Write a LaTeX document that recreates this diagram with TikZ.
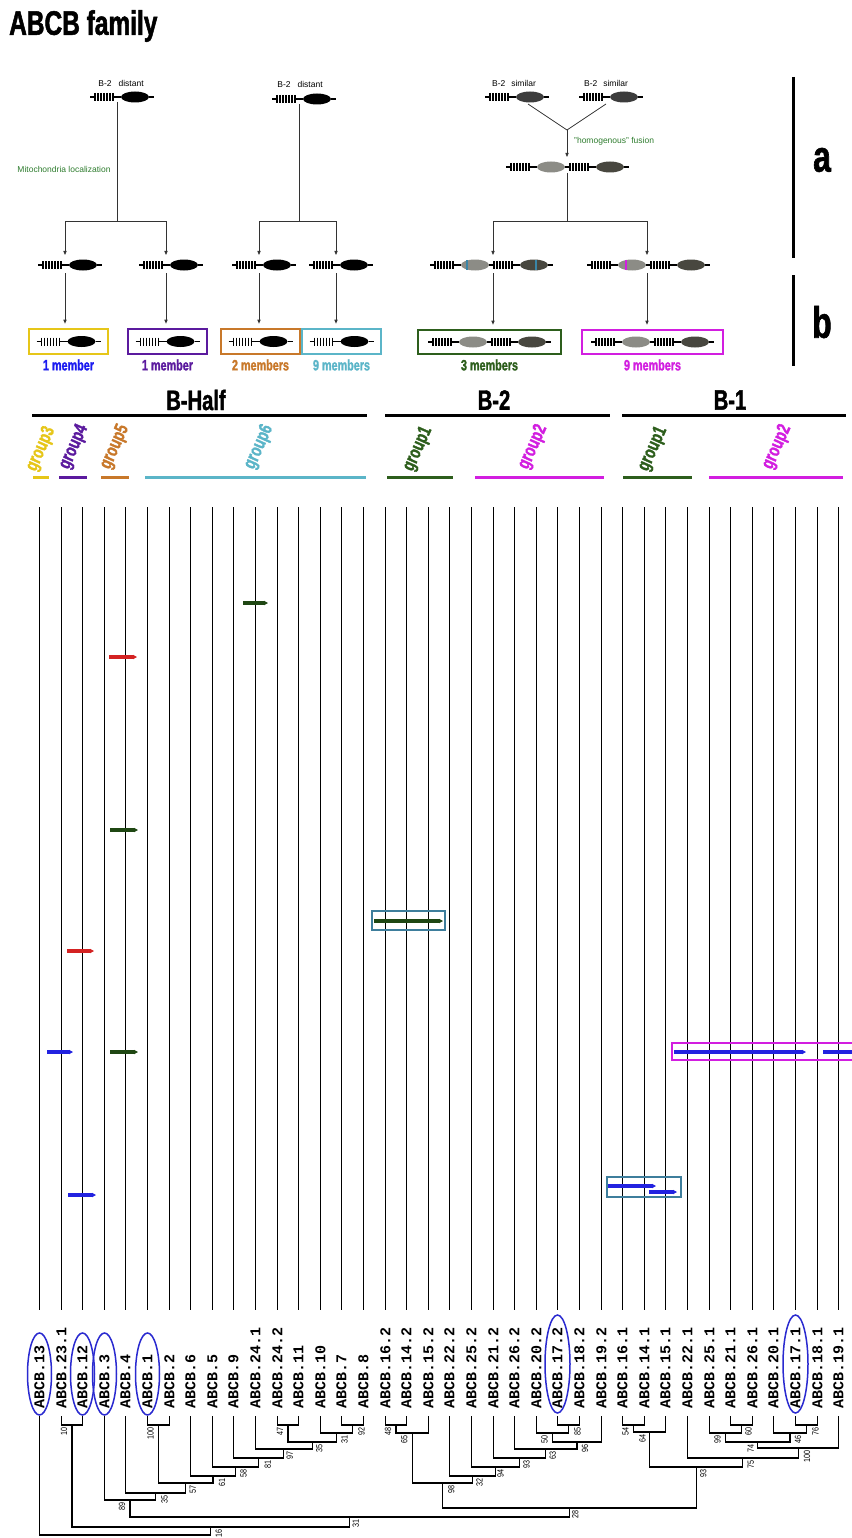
\documentclass[tikz,border=0pt]{standalone}
\usepackage{fontspec}
\setmainfont{Liberation Sans}
\newfontfamily\heavyfont[FakeStretch=0.72,FakeBold=1.5]{Liberation Sans}
\newfontfamily\labfont{Liberation Mono}
\newfontfamily\bootfont[FakeStretch=0.8]{Liberation Sans}
\usetikzlibrary{arrows.meta,calc,positioning}
\definecolor{grpYellow}{HTML}{E6C619}
\definecolor{grpPurple}{HTML}{5B1A9E}
\definecolor{grpOrange}{HTML}{C8782A}
\definecolor{grpCyan}{HTML}{5BB5C8}
\definecolor{grpGreen}{HTML}{2D5E1C}
\definecolor{grpMagenta}{HTML}{D21EE0}
\definecolor{memBlue}{HTML}{1A1AF0}
\definecolor{txtGreen}{HTML}{2F7D2F}
\definecolor{domLight}{HTML}{8C8C86}
\definecolor{domDark}{HTML}{48473F}
\definecolor{domSim}{HTML}{3C3C3C}
\definecolor{stripeTeal}{HTML}{3A86A8}
\definecolor{motifRed}{HTML}{D42222}
\definecolor{motifGreen}{HTML}{1F4713}
\definecolor{motifBlue}{HTML}{2222E0}
\definecolor{boxTeal}{HTML}{3E7E9C}
\definecolor{hlBlue}{HTML}{2A2AD0}

\tikzset{
  geneln/.style={line width=1.1pt, black},
  pics/genemod/.style={code={
    \draw[geneln] (-27,0) -- (-22,0);
    \foreach \t in {-22,-19,...,-4} \draw[geneln] (\t,-4) -- (\t,4);
    \draw[geneln] (-4,0) -- (4,0) (32,0) -- (37,0);
    \fill[#1] (18,0) ellipse [x radius=14, y radius=5.5];
  }}
}

% one clade of the tree: name, child, child, bar y, label shift, bootstrap
\newcommand{\clade}[6]{%
  \coordinate (yb) at (0,#4);
  \draw[tree] (#2) -- (#2 |- yb) -- (#3 |- yb) -- (#3);
  \coordinate (#1) at ($(#2 |- yb)!0.5!(#3 |- yb)$);
  \node[boot] (b#1) at ($(#1)+(#5,2)$) {#6};
}

\begin{document}
\begin{tikzpicture}[
    x=1pt, y=-1pt,
    conn/.style={line width=0.8pt, black!80},
    conarr/.style={conn, -{Triangle[length=4pt,width=3.2pt]}},
    memberbox/.style={draw=#1, line width=2.6pt, minimum width=79pt, minimum height=25pt, inner sep=0pt},
    memtext/.style={font=\heavyfont\bfseries\fontsize{15}{15}\selectfont, inner sep=1pt},
    small/.style={font=\fontsize{8.5}{9}\selectfont, inner sep=1pt},
    sect/.style={font=\heavyfont\bfseries\fontsize{28}{28}\selectfont},
    grp/.style={font=\heavyfont\bfseries\fontsize{19}{19}\selectfont, rotate=66, inner sep=0pt},
    uline/.style={line width=3pt},
    col/.style={line width=1.9pt, black},
    motif/.style={line width=3.8pt, -{Triangle[length=4pt,width=4.2pt]}},
    featbox/.style={line width=1.5pt},
    leaf/.style={font=\labfont\bfseries\fontsize{15}{15}\selectfont, rotate=90, anchor=west, inner sep=0pt},
    hl/.style={draw=hlBlue, line width=1.5pt},
    tree/.style={line width=1.2pt},
    boot/.style={font=\bootfont\fontsize{9}{9}\selectfont, rotate=90, anchor=east, inner sep=0.5pt}
  ]
  \useasboundingbox[fill=white] (0,0) rectangle (851,1538);

  \node[font=\heavyfont\bfseries\fontsize{34}{34}\selectfont, anchor=west, inner sep=0pt] (title) at (9,26) {ABCB family};

  % ---- panel a: origins
  \coordinate (dA) at (117,97);
  \coordinate (dB) at (299,99);
  \coordinate (sA) at (512,97);
  \coordinate (sB) at (606,97);
  \coordinate (mg) at (567,130);
  \coordinate (fu) at (533,167);
  \coordinate (brA) at (117,221);
  \coordinate (brB) at (299,221);
  \coordinate (brC) at (567,221);
  \coordinate (mA1) at (65,265);
  \coordinate (mA2) at (166,265);
  \coordinate (mB1) at (259,265);
  \coordinate (mB2) at (336,265);
  \coordinate (mC1) at (457,265);
  \coordinate (mC2) at (614,265);

  \pic at (dA) {genemod=black};
  \pic at (dB) {genemod=black};
  \pic at (sA) {genemod=domSim};
  \pic at (sB) {genemod=domSim};
  \pic at (fu) {genemod=domLight};
  \pic at ($(fu)+(59,0)$) {genemod=domDark};
  \node[small] (tA) at (121,83) {B-2\hspace{7pt}distant};
  \node[small] (tB) at (300,84) {B-2\hspace{7pt}distant};
  \node[small] (tC) at (514,83) {B-2\hspace{6pt}similar};
  \node[small] (tD) at (606,83) {B-2\hspace{6pt}similar};
  \node[small, text=txtGreen] (mito) at (64,169) {Mitochondria localization};
  \node[small, text=txtGreen, anchor=west] (fus) at (573,141) {"homogenous" fusion};

  \draw[conn] ($(dA)+(0,5)$) -- (brA);
  \draw[conarr] (brA) -| ($(mA1)+(0,-10)$);
  \draw[conarr] (brA) -| ($(mA2)+(0,-10)$);
  \draw[conn] ($(dB)+(0,5)$) -- (brB);
  \draw[conarr] (brB) -| ($(mB1)+(0,-10)$);
  \draw[conarr] (brB) -| ($(mB2)+(0,-10)$);
  \draw[conn] ($(sA)+(16,7)$) -- (mg);
  \draw[conn] ($(sB)+(0,7)$) -- (mg);
  \draw[conarr] (mg) -- ($(fu)+(34,-10)$);
  \draw[conn] ($(fu)+(34,6)$) -- (brC);
  \draw[conarr] (brC) -| ($(mC1)+(36,-10)$);
  \draw[conarr] (brC) -| ($(mC2)+(33,-10)$);

  \pic at (mA1) {genemod=black};
  \pic at (mA2) {genemod=black};
  \pic at (mB1) {genemod=black};
  \pic at (mB2) {genemod=black};
  \pic at (mC1) {genemod=domLight};
  \pic at ($(mC1)+(59,0)$) {genemod=domDark};
  \pic at (mC2) {genemod=domLight};
  \pic at ($(mC2)+(59,0)$) {genemod=domDark};
  \draw[line width=1.6pt, stripeTeal] ($(mC1)+(10,-5)$) -- ++(0,10);
  \draw[line width=1.6pt, stripeTeal] ($(mC1)+(79,-5)$) -- ++(0,10);
  \draw[line width=1.6pt, grpMagenta] ($(mC2)+(12,-5)$) -- ++(0,10);

  % ---- panel b: families
  \node[memberbox=grpYellow] (bxA) at (68.5,341.5) {};
  \node[memberbox=grpPurple] (bxB) at (167.5,341.5) {};
  \node[memberbox=grpOrange] (bxC) at (260.5,341.5) {};
  \node[memberbox=grpCyan] (bxD) at (341.5,341.5) {};
  \node[memberbox=grpGreen, minimum width=143pt, minimum height=24pt] (bxE) at (489.5,342) {};
  \node[memberbox=grpMagenta, minimum width=141pt, minimum height=24pt] (bxF) at (652.5,342) {};
  \foreach \b in {bxA,bxB,bxC,bxD} \pic at ($(\b.center)+(-5,0)$) {genemod=black};
  \foreach \b in {bxE,bxF} {
    \pic at ($(\b.center)+(-34.5,0)$) {genemod=domLight};
    \pic at ($(\b.center)+(24.5,0)$) {genemod=domDark};
  }
  \draw[conarr] ($(mA1)+(0,8)$) -- ($(mA1 |- bxA.north)+(0,-4)$);
  \draw[conarr] ($(mA2)+(0,8)$) -- ($(mA2 |- bxB.north)+(0,-4)$);
  \draw[conarr] ($(mB1)+(0,8)$) -- ($(mB1 |- bxC.north)+(0,-4)$);
  \draw[conarr] ($(mB2)+(0,8)$) -- ($(mB2 |- bxD.north)+(0,-4)$);
  \draw[conarr] ($(mC1)+(36,8)$) -- ($(bxE.north)+(3.5,-4)$);
  \draw[conarr] ($(mC2)+(33,8)$) -- ($(bxF.north)+(-5.5,-4)$);
  \node[memtext, text=memBlue, below=3pt of bxA] (nmA) {1 member};
  \node[memtext, text=grpPurple, below=3pt of bxB] (nmB) {1 member};
  \node[memtext, text=grpOrange, below=3pt of bxC] (nmC) {2 members};
  \node[memtext, text=grpCyan, below=3pt of bxD] (nmD) {9 members};
  \node[memtext, text=grpGreen, below=3pt of bxE] (nmE) {3 members};
  \node[memtext, text=grpMagenta, below=3pt of bxF] (nmF) {9 members};

  \draw[line width=3pt] (793,77) -- (793,258);
  \draw[line width=3pt] (793,275) -- (793,366);
  \node[font=\heavyfont\bfseries\fontsize{44}{44}\selectfont] (la) at (822,160) {a};
  \node[font=\heavyfont\bfseries\fontsize{44}{44}\selectfont] (lb) at (822,322) {b};

  % ---- subfamily headers
  \node[sect] (hHalf) at (196,400) {B-Half};
  \node[sect] (hTwo) at (494,400) {B-2};
  \node[sect] (hOne) at (730,400) {B-1};
  \draw[uline] (32,415) -- (367,415);
  \draw[uline] (385,415) -- (610,415);
  \draw[uline] (622,415) -- (846,415);

  \foreach \gx/\gy/\gc/\gt/\ga/\gb in {
      41/449/grpYellow/group3/33/49, 74/447/grpPurple/group4/59/87,
      115/447/grpOrange/group5/101/129, 259/447/grpCyan/group6/145/366,
      418/449/grpGreen/group1/387/453, 533/447/grpMagenta/group2/475/604,
      653/449/grpGreen/group1/623/692, 777/447/grpMagenta/group2/709/843} {
    \node[grp, text=\gc] at (\gx,\gy) {\gt};
    \draw[uline, \gc] (\ga,477) -- (\gb,477);
  }

  % ---- columns and leaf labels
  \foreach \nm [count=\i from 0] in {13,23.1,12,3,4,1,2,6,5,9,24.1,24.2,11,10,7,8,
      16.2,14.2,15.2,22.2,25.2,21.2,26.2,20.2,17.2,18.2,19.2,
      16.1,14.1,15.1,22.1,25.1,21.1,26.1,20.1,17.1,18.1,19.1} {
    \pgfmathsetmacro\xx{round(39+21.6*\i)+0.5}
    \draw[col] (\xx,507) -- (\xx,1310);
    \node[leaf] (l\i) at (\xx,1409) {ABCB.\nm};
    \coordinate (t\i) at (\xx,1416);
  }
  \foreach \i in {0,2,3,5} \draw[hl] (t\i |- 0,1374) ellipse [x radius=12, y radius=41];
  \foreach \i in {24,35} \draw[hl] (t\i |- 0,1364) ellipse [x radius=12.5, y radius=49];

  % motifs
  \draw[motif, motifGreen] (243,603) -- (268,603);
  \draw[motif, motifRed] (109,657) -- (137,657);
  \draw[motif, motifGreen] (110,830) -- (138,830);
  \draw[motif, motifRed] (67,951) -- (94,951);
  \draw[motif, motifBlue] (47,1052) -- (73,1052);
  \draw[motif, motifGreen] (110,1052) -- (138,1052);
  \draw[motif, motifBlue] (68,1195) -- (96,1195);
  \draw[motif, motifGreen] (374,921) -- (443,921);
  \draw[featbox, boxTeal] (372,911) rectangle (445,930);
  \draw[motif, motifBlue] (674,1052) -- (806,1052);
  \draw[motif, motifBlue] (823,1052) -- (856,1052);
  \draw[featbox, grpMagenta] (672,1043) rectangle (856,1060);
  \draw[motif, motifBlue] (608,1186) -- (656,1186);
  \draw[motif, motifBlue] (649,1192) -- (677,1192);
  \draw[featbox, boxTeal] (607,1177) rectangle (681,1197);

  % ---- tree
  \clade{nA}{t1}{t2}{1425}{-8}{10}
  \clade{nB}{t5}{t6}{1425}{-8}{100}
  \clade{nC1}{t11}{t12}{1425}{-8}{47}
  \clade{nC2}{t14}{t15}{1425}{9}{92}
  \clade{nC3}{t13}{nC2}{1433}{8}{31}
  \clade{nC4}{nC1}{nC3}{1442}{7}{35}
  \clade{nC5}{t10}{nC4}{1449}{6}{97}
  \clade{nC6}{t9}{nC5}{1458}{9}{81}
  \clade{nC7}{t8}{nC6}{1467}{8}{58}
  \clade{nC8}{t7}{nC7}{1476}{9}{61}
  \clade{nC9}{nB}{nC8}{1483}{7}{57}
  \clade{nC10}{t4}{nC9}{1493}{9}{35}
  \clade{nC11}{t3}{nC10}{1500}{-8}{89}
  \clade{nG1}{t16}{t17}{1425}{-8}{48}
  \clade{nG2}{nG1}{t18}{1433}{-8}{65}
  \clade{nHa}{t24}{t25}{1425}{9}{85}
  \clade{nHb}{t23}{nHa}{1433}{-8}{50}
  \clade{nHc}{nHb}{t26}{1442}{8}{96}
  \clade{nHd}{t22}{nHc}{1449}{7}{63}
  \clade{nHe}{t21}{nHd}{1458}{7}{93}
  \clade{nHf}{t20}{nHe}{1467}{5}{94}
  \clade{nHg}{t19}{nHf}{1476}{7}{32}
  \clade{nG3}{nG2}{nHg}{1483}{9}{98}
  \clade{nK1}{t27}{t28}{1425}{-8}{54}
  \clade{nK2}{nK1}{t29}{1432}{-7}{64}
  \clade{nL1}{t32}{t33}{1425}{7}{60}
  \clade{nL2}{t31}{nL1}{1433}{-8}{99}
  \clade{nL3}{t35}{t36}{1425}{9}{76}
  \clade{nL4}{t34}{nL3}{1433}{8}{46}
  \clade{nL5}{nL2}{nL4}{1442}{-7}{74}
  \clade{nL6}{nL5}{t37}{1448}{9}{100}
  \clade{nL7}{t30}{nL6}{1458}{8}{75}
  \clade{nM}{nK2}{nL7}{1467}{7}{93}
  \clade{nE}{nG3}{nM}{1508}{6}{28}
  \clade{nD}{nC11}{nE}{1517}{6}{31}
  \clade{nF}{nA}{nD}{1527}{8}{16}
  \coordinate (yb) at (0,1535);
  \draw[tree] (t0) -- (t0 |- yb) -- (nF |- yb) -- (nF);
\end{tikzpicture}
\end{document}
